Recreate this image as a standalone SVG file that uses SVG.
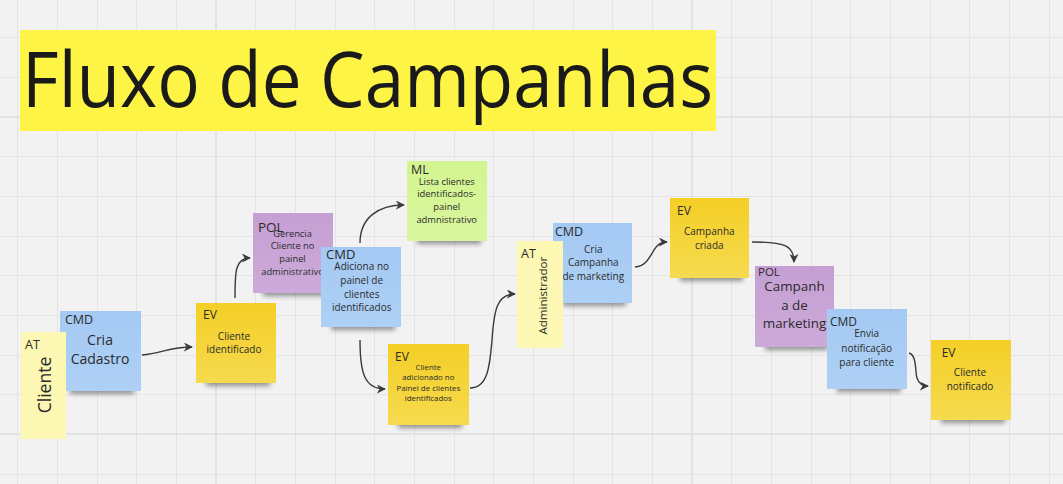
<svg xmlns="http://www.w3.org/2000/svg" width="1063" height="484" viewBox="0 0 1063 484">
<defs>
<style>
.grid{stroke:#e4e4e4;stroke-width:1;fill:none}
.gridm{stroke:#dedede;stroke-width:1.6;fill:none}
.t{font-family:"Open Sans","Noto Sans","Liberation Sans",sans-serif;fill:#2b2b2b}
.c{text-anchor:middle}
.conn{fill:none;stroke:#3a3a3a;stroke-width:1.4}
.ev{fill:url(#gEv)}
.cmd{fill:url(#gCmd)}
.pol{fill:url(#gPol)}
.ml{fill:url(#gMl)}
.at{fill:#fcf8b3}
.sh{fill:#000;opacity:0.4;filter:url(#blur)}
</style>
<linearGradient id="gEv" x1="0" y1="0" x2="0" y2="1"><stop offset="0" stop-color="#f4cf26"/><stop offset="1" stop-color="#f6da4f"/></linearGradient>
<linearGradient id="gCmd" x1="0" y1="0" x2="0" y2="1"><stop offset="0" stop-color="#a4c9f3"/><stop offset="1" stop-color="#aed0f5"/></linearGradient>
<linearGradient id="gPol" x1="0" y1="0" x2="0" y2="1"><stop offset="0" stop-color="#c59fd3"/><stop offset="1" stop-color="#ccaad9"/></linearGradient>
<linearGradient id="gMl" x1="0" y1="0" x2="0" y2="1"><stop offset="0" stop-color="#d3f590"/><stop offset="1" stop-color="#d9f69f"/></linearGradient>
<filter id="blur" x="-20%" y="-100%" width="140%" height="300%"><feGaussianBlur stdDeviation="2.5"/></filter>
<marker id="arr" viewBox="0 0 10 10" refX="9" refY="5" markerWidth="9" markerHeight="9" markerUnits="userSpaceOnUse" orient="auto"><path d="M0,0 L10,5 L0,10 L3,5 Z" fill="#3a3a3a"/></marker>
</defs>
<rect width="1063" height="484" fill="#f2f2f2"/>
<g id="grid">
<path class="grid" d="M17.5,0V484M57.5,0V484M97.5,0V484M136.5,0V484M176.5,0V484M255.5,0V484M295.5,0V484M335.5,0V484M374.5,0V484M414.5,0V484M454.5,0V484M493.5,0V484M533.5,0V484M573.5,0V484M612.5,0V484M652.5,0V484M731.5,0V484M771.5,0V484M811.5,0V484M850.5,0V484M890.5,0V484M930.5,0V484M969.5,0V484M1009.5,0V484M1049.5,0V484"/>
<path class="grid" d="M0,37.5H1063M0,77.5H1063M0,156.5H1063M0,196.5H1063M0,236.5H1063M0,275.5H1063M0,315.5H1063M0,355.5H1063M0,394.5H1063M0,474.5H1063"/>
<path class="gridm" d="M216,0V484M692,0V484M0,117H1063M0,434H1063"/>
</g>
<g id="title">
<rect x="20" y="30" width="696" height="101" fill="#fef445"/>
<text class="t" x="22" y="107" font-size="77" textLength="691" lengthAdjust="spacingAndGlyphs" style="fill:#1a1a1a">Fluxo de Campanhas</text>
</g>
<g id="connectors">
<path class="conn" marker-end="url(#arr)" d="M142,355 C162,353 170,347 192,347"/>
<path class="conn" marker-end="url(#arr)" d="M235,298 C235,272 235,258 250,258"/>
<path class="conn" marker-end="url(#arr)" d="M360,243 C360,218 378,205 404,205"/>
<path class="conn" marker-end="url(#arr)" d="M360,340 C360,372 364,389 385,389"/>
<path class="conn" marker-end="url(#arr)" d="M470,388 C489,388 490,362 492,340 C494,310 497,294 515,294"/>
<path class="conn" marker-end="url(#arr)" d="M635,267 C654,265 650,242 667,242"/>
<path class="conn" marker-end="url(#arr)" d="M752,242 C784,242 794,245 794,262"/>
<path class="conn" marker-end="url(#arr)" d="M909,353 C917,355 915,372 917,378 C919,384 922,386 928,386"/>
</g>
<g id="cmd-cria-cadastro">
<rect class="sh" x="70" y="386" width="64" height="8"/>
<rect class="cmd" x="60" y="311" width="81" height="80"/>
<text class="t" x="65" y="324" font-size="12.5">CMD</text>
<text class="t c" x="100" y="345" font-size="14">Cria</text>
<text class="t c" x="100" y="364" font-size="14">Cadastro</text>
</g>
<g id="at-cliente">
<rect class="at" x="21" y="332" width="45" height="107"/>
<text class="t" x="25" y="349" font-size="12.5">AT</text>
<text class="t c" transform="translate(51,385) rotate(-90)" font-size="17.5">Cliente</text>
</g>
<g id="ev-cliente-identificado">
<rect class="sh" x="206" y="378" width="64" height="8"/>
<rect class="ev" x="196" y="303" width="80" height="80"/>
<text class="t" x="203" y="319" font-size="12">EV</text>
<text class="t c" x="234" y="339.5" font-size="10">Cliente</text>
<text class="t c" x="234" y="353.3" font-size="10">identificado</text>
</g>
<g id="pol-gerencia">
<rect class="sh" x="263" y="288" width="64" height="8"/>
<rect class="pol" x="253" y="213" width="80" height="80"/>
<text class="t" x="258" y="231.5" font-size="13.5">POL</text>
<text class="t c" x="292.5" y="236.6" font-size="9.3">Gerencia</text>
<text class="t c" x="292.5" y="249" font-size="9.3">Cliente no</text>
<text class="t c" x="292.5" y="262.3" font-size="9.3">painel</text>
<text class="t c" x="292.5" y="275" font-size="9.3">administrativo</text>
</g>
<g id="cmd-adiciona">
<rect class="sh" x="331" y="322" width="64" height="8"/>
<rect class="cmd" x="321" y="247" width="80" height="80"/>
<text class="t" x="326" y="258.5" font-size="13">CMD</text>
<text class="t c" x="361.7" y="269.5" font-size="10">Adiciona no</text>
<text class="t c" x="361.7" y="283.5" font-size="10">painel de</text>
<text class="t c" x="361.7" y="297.5" font-size="10">clientes</text>
<text class="t c" x="361.7" y="311" font-size="10">identificados</text>
</g>
<g id="ml-lista">
<rect class="sh" x="417" y="236" width="64" height="8"/>
<rect class="ml" x="407" y="161" width="80" height="80"/>
<text class="t" x="411" y="174" font-size="12.5">ML</text>
<text class="t c" x="446.7" y="184.5" font-size="9.4">Lista clientes</text>
<text class="t c" x="446.7" y="197.3" font-size="9.4">identificados-</text>
<text class="t c" x="446.7" y="210.3" font-size="9.4">painel</text>
<text class="t c" x="446.7" y="223.3" font-size="9.4">admnistrativo</text>
</g>
<g id="ev-cliente-adicionado">
<rect class="sh" x="398" y="420" width="64" height="8"/>
<rect class="ev" x="388" y="344" width="81" height="81"/>
<text class="t" x="395" y="361" font-size="12">EV</text>
<text class="t c" x="428.3" y="370" font-size="7.9">Cliente</text>
<text class="t c" x="428.3" y="380" font-size="7.9">adicionado no</text>
<text class="t c" x="428.3" y="390.8" font-size="7.9">Painel de clientes</text>
<text class="t c" x="428.3" y="401" font-size="7.9">identificados</text>
</g>
<g id="cmd-cria-campanha">
<rect class="sh" x="563" y="298" width="63" height="8"/>
<rect class="cmd" x="553" y="223" width="79" height="80"/>
<text class="t" x="555" y="236" font-size="12.5">CMD</text>
<text class="t c" x="593.3" y="252.5" font-size="10">Cria</text>
<text class="t c" x="593.3" y="266.2" font-size="10">Campanha</text>
<text class="t c" x="593.3" y="280.2" font-size="10">de marketing</text>
</g>
<g id="at-administrador">
<rect class="at" x="517" y="241" width="46" height="107"/>
<text class="t" x="521" y="257.5" font-size="12.5">AT</text>
<text class="t c" transform="translate(546.5,295.7) rotate(-90)" font-size="11.6">Administrador</text>
</g>
<g id="ev-campanha-criada">
<rect class="sh" x="680" y="273" width="63" height="8"/>
<rect class="ev" x="670" y="198" width="79" height="80"/>
<text class="t" x="677" y="215" font-size="12">EV</text>
<text class="t c" x="709.3" y="234.8" font-size="10">Campanha</text>
<text class="t c" x="709.3" y="248.5" font-size="10">criada</text>
</g>
<g id="pol-campanha-marketing">
<rect class="sh" x="765" y="342" width="63" height="8"/>
<rect class="pol" x="755" y="266" width="79" height="81"/>
<text class="t" x="758" y="276.3" font-size="11.5">POL</text>
<text class="t c" x="794.5" y="291.4" font-size="13.4">Campanh</text>
<text class="t c" x="794.5" y="309.7" font-size="13.4">a de</text>
<text class="t c" x="794.5" y="328" font-size="13.4">marketing</text>
</g>
<g id="cmd-envia">
<rect class="sh" x="837" y="384" width="64" height="8"/>
<rect class="cmd" x="827" y="309" width="80" height="80"/>
<text class="t" x="830" y="326" font-size="12">CMD</text>
<text class="t c" x="866.7" y="336.8" font-size="10">Envia</text>
<text class="t c" x="866.7" y="351.5" font-size="10">notificação</text>
<text class="t c" x="866.7" y="365.8" font-size="10">para cliente</text>
</g>
<g id="ev-cliente-notificado">
<rect class="sh" x="941" y="415" width="64" height="8"/>
<rect class="ev" x="931" y="340" width="80" height="80"/>
<text class="t" x="941.7" y="357" font-size="12">EV</text>
<text class="t c" x="970" y="376.2" font-size="10">Cliente</text>
<text class="t c" x="970" y="390.2" font-size="10">notificado</text>
</g>
</svg>
